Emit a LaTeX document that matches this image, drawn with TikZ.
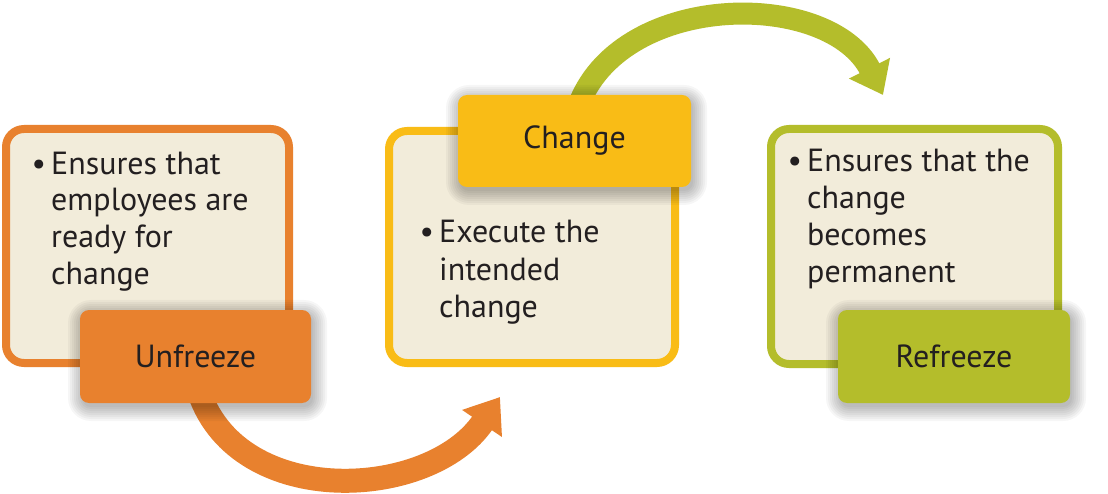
\documentclass[tikz,border=0pt]{standalone}
\usepackage{fontspec}
\setmainfont{PT Sans}
\usetikzlibrary{arrows.meta,calc}
\pgfdeclarelayer{background}
\pgfsetlayers{background,main}
\definecolor{cOrange}{HTML}{E8812E}
\definecolor{cYellow}{HTML}{F9BC16}
\definecolor{cGreen}{HTML}{B4BD2B}
\definecolor{cCream}{HTML}{F2ECDA}
\definecolor{cText}{HTML}{231F20}
\newcommand{\glowrect}[4]{%
  \foreach \e in {14,12,...,0}{%
    \fill[black,opacity=0.035,rounded corners=9+\e]
      ($(#1,#2)+(2-\e,4-\e)$) rectangle ($(#3,#4)+(2+\e,4+\e)$);}}
\begin{document}
\begin{tikzpicture}[x=1pt,y=-1pt,
  contentbox/.style={draw,line width=8pt,fill=cCream,rounded corners=18pt,inner sep=0pt},
  labelbox/.style={rounded corners=9pt,inner sep=0pt,text=cText,font=\fontsize{32}{36}\selectfont},
  bodytext/.style={anchor=base west,inner sep=0pt,align=left,text=cText,font=\fontsize{32}{37}\selectfont},
  bigarrow/.style={line width=24pt}]
\useasboundingbox (0,0) rectangle (1108,494);
\begin{pgfonlayer}{background}
\fill[white] (0,0) rectangle (1108,494);
\end{pgfonlayer}

% content boxes
\node[contentbox,draw=cOrange,minimum width=283pt,minimum height=234pt] (box1) at (147.5,246) {};
\node[contentbox,draw=cYellow,minimum width=286pt,minimum height=232pt] (box2) at (532,247) {};
\node[contentbox,draw=cGreen,minimum width=287pt,minimum height=235pt] (box3) at (914.5,246.5) {};

% body texts (anchored at the baseline of the last line)
\node[bodytext] (t1) at (51,285) {\llap{•\hspace{5pt}}Ensures that\\employees are\\ready for\\change};
\node[bodytext] (t2) at (439,317) {\llap{•\hspace{5pt}}Execute the\\intended\\change};
\node[bodytext] (t3) at (807,283) {\llap{•\hspace{5pt}}Ensures that the\\change\\becomes\\permanent};

% shadows and labels
\glowrect{80}{310}{311}{403}
\node[labelbox,fill=cOrange,minimum width=231pt,minimum height=93pt] (unfreeze) at (195.5,356.5) {Unfreeze};
\glowrect{458}{95}{691}{187}
\node[labelbox,fill=cYellow,minimum width=233pt,minimum height=92pt] (change) at (574.5,141) {Change};
\glowrect{838}{310}{1070}{403}
\node[labelbox,fill=cGreen,minimum width=232pt,minimum height=93pt] (refreeze) at (954,356.5) {Refreeze};

% connectors
\coordinate (oStart) at ($(unfreeze.south)+(4,-10)$);
\coordinate (oEnd) at (500,397);
\coordinate (gStart) at ($(change.north)+(5,8)$);
\coordinate (gEnd) at (883,95);
\begin{pgfonlayer}{background}
\draw[bigarrow,draw=cOrange,-{Triangle[length=32pt,width=46pt]}]
  (oStart) .. controls (240,510) and (430,500) .. (oEnd);
\draw[bigarrow,line width=22pt,draw=cGreen,-{Triangle[length=30pt,width=44pt]}]
  (gStart) .. controls (625,-10) and (830,-10) .. (gEnd);
\end{pgfonlayer}
\end{tikzpicture}
\end{document}
